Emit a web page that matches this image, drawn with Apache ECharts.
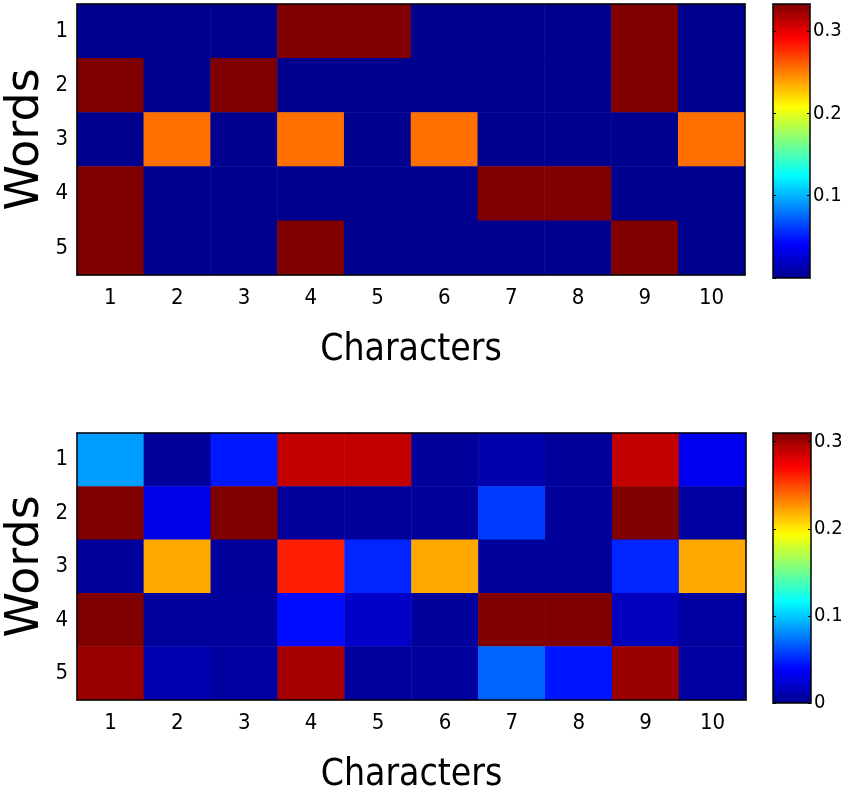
<!DOCTYPE html>
<html>
<head>
<meta charset="utf-8">
<script src="https://cdn.jsdelivr.net/npm/echarts@6/dist/echarts.min.js"></script>
<style>
  html, body { margin: 0; padding: 0; background: #fff; }
  #chart { width: 841px; height: 803px; }
</style>
</head>
<body>
<div id="chart"></div>
<script>
// categories
const characters = ['1', '2', '3', '4', '5', '6', '7', '8', '9', '10']
const words = ['1', '2', '3', '4', '5']

// top map: rows = words 1..5, columns = characters 1..10
const topValues = [
  [0, 0, 0, 0.333, 0.333, 0, 0, 0, 0.333, 0],
  [0.333, 0, 0.333, 0, 0, 0, 0, 0, 0.333, 0],
  [0, 0.255, 0, 0.255, 0, 0.255, 0, 0, 0, 0.255],
  [0.333, 0, 0, 0, 0, 0, 0.333, 0.333, 0, 0],
  [0.333, 0, 0, 0.333, 0, 0, 0, 0, 0.333, 0]
]
// bottom map
const bottomValues = [
  [0.087, 0.004, 0.046, 0.29, 0.29, 0.004, 0.010, 0.004, 0.29, 0.034],
  [0.31, 0.030, 0.31, 0.004, 0.004, 0.004, 0.057, 0.004, 0.31, 0.006],
  [0.004, 0.22, 0.004, 0.262, 0.050, 0.22, 0.004, 0.004, 0.050, 0.22],
  [0.31, 0.005, 0.005, 0.042, 0.020, 0.004, 0.31, 0.31, 0.016, 0.006],
  [0.302, 0.011, 0.006, 0.298, 0.005, 0.005, 0.069, 0.045, 0.302, 0.006]
]
// colour bar ranges
const topRange = [0, 0.333]
const bottomRange = [0, 0.31]

// jet colour map
const jet = ['#00008f', '#0000ff', '#0080ff', '#00ffff', '#80ff80',
  '#ffff00', '#ff8000', '#ff0000', '#800000']

const tickFont = "'DejaVu Sans Condensed', sans-serif"

function toCells(rows) {
  const out = []
  rows.forEach((row, y) => {
    row.forEach((v, x) => out.push([x, y, v]))
  })
  return out
}

const black = { color: '#000', width: 1.5 }

function heatAxes(gridIndex) {
  const tick = { inside: true, alignWithLabel: true, length: 7, lineStyle: { color: '#000' } }
  const xs = [
    {
      type: 'category', gridIndex: gridIndex, data: characters, position: 'bottom', z: 10,
      axisLine: { lineStyle: black },
      axisTick: tick,
      axisLabel: { color: '#000', fontFamily: tickFont, fontSize: 22, margin: 12 },
      name: 'Characters', nameLocation: 'middle', nameGap: 57, nameMoveOverlap: false,
      nameTextStyle: { color: '#000', fontFamily: tickFont, fontSize: 37 }
    },
    {
      type: 'category', gridIndex: gridIndex, data: characters, position: 'top', z: 10,
      axisLine: { lineStyle: black },
      axisTick: tick,
      axisLabel: { show: false }
    }
  ]
  const ys = [
    {
      type: 'category', gridIndex: gridIndex, data: words, inverse: true, position: 'left', z: 10,
      axisLine: { lineStyle: black },
      axisTick: tick,
      axisLabel: { color: '#000', fontFamily: tickFont, fontSize: 22, margin: 9 },
      name: 'Words', nameLocation: 'middle', nameGap: 28, nameRotate: 90, nameMoveOverlap: false,
      nameTextStyle: { color: '#000', fontFamily: 'DejaVu Sans', fontSize: 46 }
    },
    {
      type: 'category', gridIndex: gridIndex, data: words, inverse: true, position: 'right', z: 10,
      axisLine: { lineStyle: black },
      axisTick: tick,
      axisLabel: { show: false }
    }
  ]
  return { xs, ys }
}

function barAxes(gridIndex, range, showMin) {
  const xs = ['bottom', 'top'].map(p => ({
    type: 'value', gridIndex: gridIndex, position: p, z: 10, min: 0, max: 1,
    axisLine: { show: true, onZero: false, lineStyle: black },
    axisTick: { show: false }, axisLabel: { show: false }, splitLine: { show: false }
  }))
  const ys = [
    {
      type: 'value', gridIndex: gridIndex, position: 'right', z: 10,
      min: range[0], max: range[1], interval: 0.1,
      axisLine: { show: true, onZero: false, lineStyle: black },
      axisTick: { show: true, inside: true, length: 3, lineStyle: { color: '#000' } },
      axisLabel: { color: '#000', fontFamily: tickFont, fontSize: 20, margin: 3,
        showMinLabel: showMin, showMaxLabel: false,
        formatter: v => (v === 0 ? '0' : v.toFixed(1)) },
      splitLine: { show: false }
    },
    {
      type: 'value', gridIndex: gridIndex, position: 'left', z: 10,
      min: range[0], max: range[1], interval: 0.1,
      axisLine: { show: true, onZero: false, lineStyle: black },
      axisTick: { show: true, inside: true, length: 3, lineStyle: { color: '#000' } },
      axisLabel: { show: false }, splitLine: { show: false }
    }
  ]
  return { xs, ys }
}

const a0 = heatAxes(0)
const a1 = heatAxes(1)
const b0 = barAxes(2, topRange, false)
const b1 = barAxes(3, bottomRange, true)

const chart = echarts.init(document.getElementById('chart'))
chart.setOption({
  animation: false,
  backgroundColor: '#fff',
  grid: [
    { left: 77, top: 4, width: 668, height: 271, outerBoundsMode: 'none' },
    { left: 77, top: 433, width: 669, height: 267, outerBoundsMode: 'none' },
    { left: 773, top: 4, width: 37, height: 274, outerBoundsMode: 'none' },
    { left: 773, top: 433, width: 38, height: 270, outerBoundsMode: 'none' }
  ],
  xAxis: [...a0.xs, ...a1.xs, ...b0.xs, ...b1.xs],
  yAxis: [...a0.ys, ...a1.ys, ...b0.ys, ...b1.ys],
  visualMap: [
    {
      type: 'continuous', seriesIndex: 0, min: topRange[0], max: topRange[1],
      inRange: { color: jet }, orient: 'vertical', calculable: false, z: 1,
      left: 773, top: 4, itemWidth: 37, itemHeight: 274, padding: 0, hoverLink: false
    },
    {
      type: 'continuous', seriesIndex: 1, min: bottomRange[0], max: bottomRange[1],
      inRange: { color: jet }, orient: 'vertical', calculable: false, z: 1,
      left: 773, top: 433, itemWidth: 38, itemHeight: 270, padding: 0, hoverLink: false
    }
  ],
  series: [
    { type: 'heatmap', xAxisIndex: 0, yAxisIndex: 0, data: toCells(topValues) },
    { type: 'heatmap', xAxisIndex: 2, yAxisIndex: 2, data: toCells(bottomValues) }
  ]
})
</script>
</body>
</html>
